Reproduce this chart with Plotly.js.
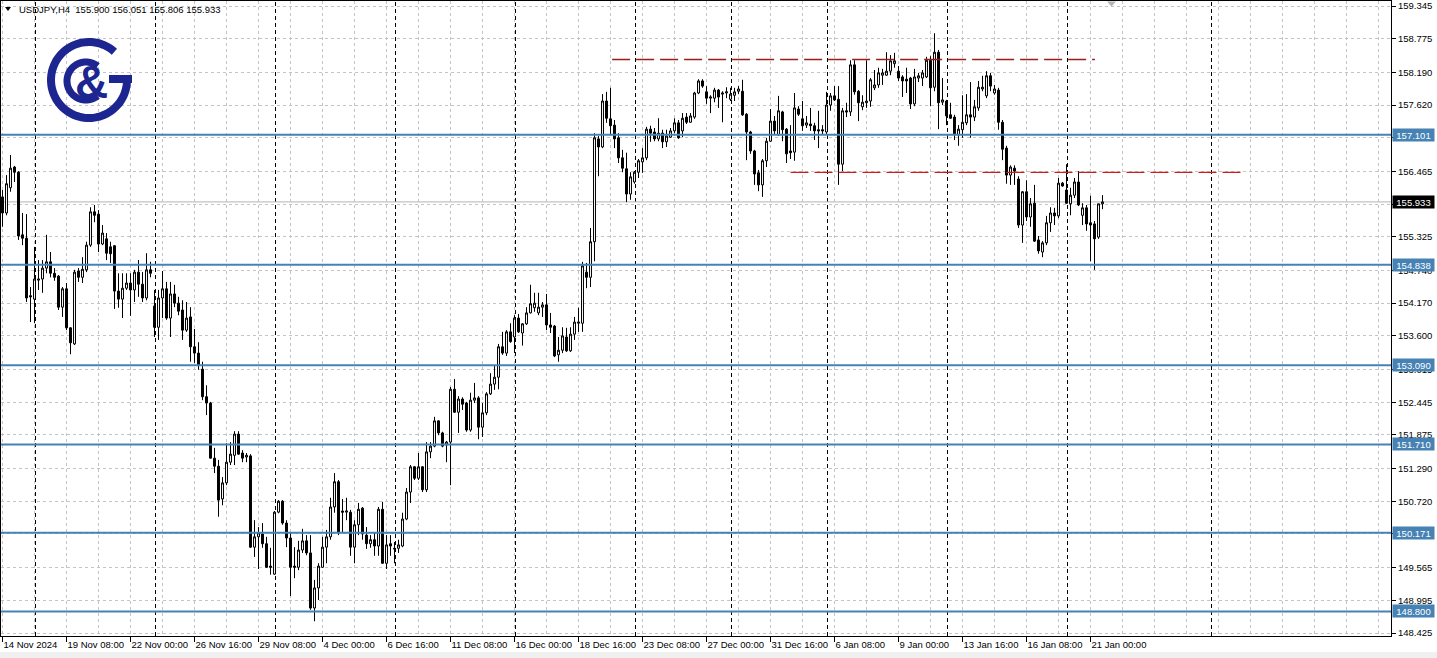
<!DOCTYPE html>
<html><head><meta charset="utf-8">
<script src="https://cdn.plot.ly/plotly-3.0.1.min.js"></script>
<style>html,body{margin:0;padding:0;background:#fff;overflow:hidden}#chart{width:1437px;height:658px}</style>
</head><body><div id="chart"></div>
<script>
const symbol = "USDJPY";
const timeframe = "H4";

const open = [
156.02,155.74,156.18,156.54,156.45,155.36,155.30,154.30,154.24,154.57,
154.59,154.78,154.89,154.69,154.64,154.10,154.42,153.74,153.46,154.73,
154.62,154.75,155.18,155.76,155.72,155.20,155.29,155.15,155.17,154.38,
154.24,154.43,154.52,154.40,154.71,154.50,154.26,154.75,154.12,153.75,
154.26,154.42,153.91,154.33,154.17,154.05,153.70,153.93,153.41,153.30,
153.02,152.54,152.43,151.47,151.33,150.76,151.04,151.40,151.52,151.89,
151.56,151.49,151.51,149.92,150.10,150.15,149.98,149.59,149.45,150.53,
150.72,150.34,150.08,149.59,149.57,149.87,150.03,149.82,148.86,149.21,
149.57,149.92,150.10,150.62,151.06,150.55,150.53,150.53,149.92,150.31,
150.60,150.13,149.98,150.05,149.94,150.58,149.64,149.98,149.90,149.90,
149.94,150.41,150.88,151.32,151.12,151.32,150.92,151.58,151.68,152.12,
151.91,151.70,151.75,152.67,152.27,152.50,152.43,151.96,152.48,152.52,
152.01,152.26,152.59,152.76,152.88,153.41,153.30,153.67,153.58,153.91,
153.65,153.81,154.00,154.09,154.00,154.10,154.14,153.79,153.77,153.27,
153.35,153.58,153.34,153.63,153.82,153.82,154.71,154.62,155.24,157.03,
156.89,157.69,157.38,157.27,157.05,156.70,156.51,156.07,156.28,156.45,
156.63,156.70,157.20,157.15,157.03,157.13,156.98,157.06,157.17,157.31,
157.17,157.41,157.32,157.41,157.83,158.04,157.85,157.74,157.74,157.88,
157.81,157.83,157.72,157.79,157.86,157.86,157.46,157.15,156.82,156.44,
156.23,156.65,156.99,157.34,157.10,157.50,157.20,156.82,156.80,157.55,
157.38,157.27,157.29,157.26,157.19,157.19,157.15,157.62,157.78,157.72,
156.59,157.52,157.50,158.32,157.86,157.59,157.66,157.69,157.92,157.97,
158.14,158.14,158.21,158.34,158.21,158.11,158.07,158.09,157.64,158.09,
158.09,158.11,158.40,157.93,158.54,157.67,157.69,157.45,157.41,157.10,
157.19,157.31,157.45,157.41,157.57,157.90,157.78,158.13,157.83,157.88,
157.32,156.87,156.40,156.52,156.33,155.53,156.11,155.67,155.91,155.27,
155.06,155.22,155.57,155.74,155.69,156.26,156.14,155.90,156.05,156.28,
155.70,155.83,155.57,155.55,155.32,155.900
];
const high = [
156.14,156.40,156.75,156.56,156.47,155.74,155.72,154.45,155.15,154.92,
154.92,155.36,155.06,154.78,154.66,154.45,154.52,153.75,154.75,154.78,
154.97,155.24,155.84,155.88,155.79,155.53,155.39,155.24,155.18,154.69,
154.69,154.69,154.69,154.75,154.92,154.71,155.04,154.89,154.40,154.40,
154.73,154.54,154.54,154.49,154.28,154.22,154.19,154.10,153.72,153.49,
153.15,152.74,152.45,151.65,151.44,151.14,151.73,151.75,151.94,151.94,
151.61,151.56,151.54,150.39,150.27,150.34,150.10,149.91,150.55,150.74,
150.74,150.39,150.18,149.92,150.03,150.24,150.13,150.13,149.35,149.64,
150.10,150.22,150.78,151.21,151.09,150.76,150.78,150.57,150.39,150.69,
150.62,150.27,150.13,150.17,150.62,150.71,150.13,150.13,150.01,150.05,
150.52,150.95,151.35,151.33,151.56,151.33,151.75,151.75,152.19,152.13,
151.93,151.77,152.71,152.85,152.55,152.53,152.45,152.61,152.78,152.55,
152.43,152.62,152.95,153.09,153.46,153.67,153.70,153.82,153.96,153.98,
153.82,154.10,154.49,154.35,154.35,154.19,154.33,154.00,153.79,153.58,
153.75,153.74,153.75,153.93,154.09,154.89,154.87,155.48,157.13,157.08,
157.81,157.85,157.92,157.36,157.13,156.84,156.79,156.45,156.47,156.68,
156.87,157.24,157.26,157.22,157.39,157.19,157.19,157.22,157.39,157.36,
157.48,157.48,157.48,157.85,158.07,158.07,157.95,157.79,157.92,157.90,
157.86,157.93,157.92,157.92,157.95,158.06,157.48,157.17,156.84,156.49,
156.68,157.05,157.55,157.43,157.78,157.52,157.22,157.27,157.83,157.60,
157.69,157.43,157.57,157.31,157.52,157.27,157.85,157.83,157.95,157.95,
157.57,157.66,158.40,158.40,157.88,157.79,158.40,158.09,158.23,158.27,
158.25,158.54,158.49,158.53,158.30,158.14,158.27,158.11,158.25,158.18,
158.23,158.46,158.47,158.87,158.58,158.09,157.71,157.66,157.45,157.27,
157.79,157.81,158.02,157.71,158.04,158.13,158.21,158.18,157.97,157.92,
157.36,156.91,156.57,156.57,156.38,156.12,156.31,156.00,156.23,155.34,
155.25,155.69,155.84,155.83,156.35,156.28,156.59,156.18,156.35,156.47,
155.91,155.88,156.04,155.60,155.90,156.051
];
const low = [
155.50,155.70,156.11,156.28,155.27,155.18,154.19,153.84,153.82,154.40,
154.35,154.69,154.62,154.56,154.05,153.93,153.70,153.28,153.44,154.54,
154.52,154.71,155.15,155.58,155.06,155.18,154.92,154.87,154.07,154.09,
153.91,154.40,153.95,154.19,154.28,154.19,154.22,154.62,153.58,153.53,
153.91,153.88,153.58,154.10,153.96,153.53,153.67,153.15,153.13,153.01,
152.48,152.22,151.53,151.21,150.45,150.65,151.00,151.35,151.35,151.53,
151.40,151.40,149.91,149.75,149.54,149.91,149.56,149.44,149.44,150.51,
150.31,149.92,149.07,149.38,149.52,149.82,149.78,148.83,148.63,149.00,
149.56,149.64,150.05,150.52,150.13,150.17,150.39,149.77,149.64,150.13,
150.05,149.89,149.91,149.77,149.77,149.63,149.54,149.77,149.64,149.82,
149.92,150.39,150.69,151.09,151.09,150.88,150.88,151.47,151.66,151.87,
151.66,151.40,151.00,152.26,151.91,152.31,151.93,151.93,152.43,151.80,
151.84,152.22,152.57,152.66,152.67,153.27,153.25,153.48,153.30,153.65,
153.43,153.79,153.99,154.02,153.96,153.93,153.70,153.65,153.23,153.15,
153.30,153.32,153.32,153.53,153.67,153.67,154.43,154.45,154.90,156.38,
156.87,157.31,157.10,156.87,156.61,156.45,155.93,155.97,156.25,156.35,
156.44,156.66,156.98,156.99,156.99,156.87,156.89,157.05,157.13,157.03,
157.06,157.29,157.31,157.38,157.81,157.92,157.64,157.48,157.67,157.57,
157.32,157.74,157.69,157.69,157.81,157.43,156.66,156.77,156.23,156.12,
156.02,156.54,156.98,157.10,157.08,156.99,156.61,156.68,156.65,157.43,
157.17,157.22,157.17,157.01,156.87,157.10,157.10,157.52,157.69,156.23,
156.47,157.41,157.43,157.80,157.34,157.53,157.57,157.59,157.88,157.92,
157.97,158.13,158.14,158.27,158.04,157.76,157.83,157.55,157.60,158.02,
157.95,158.09,157.60,157.86,157.20,157.62,157.27,157.38,157.01,156.91,
157.05,157.27,157.05,157.34,157.52,157.86,157.74,157.86,157.80,157.19,
156.66,156.25,156.23,156.23,155.48,155.22,155.60,155.50,155.24,155.03,
154.97,155.18,155.41,155.53,155.65,156.20,155.90,155.70,156.00,155.86,
155.53,155.43,154.90,154.75,155.29,155.806
];
const close = [
155.74,156.25,156.52,156.45,155.34,155.30,154.26,154.28,154.59,154.59,
154.78,154.89,154.69,154.62,154.10,154.42,153.74,153.48,154.71,154.62,
154.76,155.18,155.76,155.70,155.20,155.39,155.04,155.03,154.38,154.24,
154.43,154.52,154.40,154.71,154.50,154.26,154.75,154.69,153.75,154.26,
154.42,153.91,154.33,154.17,154.03,153.70,153.91,153.41,153.30,153.09,
152.54,152.43,151.47,151.33,150.74,151.04,151.40,151.54,151.89,151.54,
151.47,151.52,149.92,150.10,150.17,149.98,149.57,149.57,150.53,150.72,
150.34,150.08,149.57,149.57,149.87,150.03,149.82,148.86,149.21,149.59,
149.92,150.10,150.62,151.06,150.17,150.53,150.55,149.92,150.31,150.58,
150.15,149.98,150.05,149.94,150.58,149.64,149.96,149.94,149.89,149.96,
150.41,150.88,151.32,151.12,151.32,150.92,151.58,151.68,152.12,151.91,
151.68,151.75,152.67,152.27,152.50,152.41,151.96,152.48,152.52,152.01,
152.26,152.59,152.76,152.88,153.41,153.30,153.67,153.50,153.91,153.67,
153.81,154.00,154.16,154.17,154.10,154.14,153.79,153.75,153.25,153.35,
153.60,153.34,153.63,153.84,153.84,154.82,154.62,155.24,157.05,156.89,
157.69,157.39,157.26,157.03,156.70,156.52,156.07,156.37,156.45,156.65,
156.70,157.20,157.13,157.03,157.13,156.98,157.08,157.17,157.31,157.05,
157.39,157.32,157.43,157.83,158.04,157.95,157.74,157.76,157.88,157.76,
157.83,157.85,157.81,157.85,157.90,157.45,157.15,156.82,156.42,156.23,
156.65,156.99,157.34,157.17,157.52,157.19,156.77,156.79,157.57,157.46,
157.26,157.31,157.26,157.17,157.17,157.17,157.62,157.78,157.71,156.59,
157.52,157.50,158.32,157.85,157.66,157.67,157.69,158.06,157.97,158.18,
158.18,158.21,158.39,158.39,158.09,158.04,158.04,157.64,158.11,158.13,
158.18,158.40,157.92,158.54,157.66,157.71,157.43,157.39,157.12,157.20,
157.32,157.45,157.41,157.59,157.93,157.93,158.13,157.95,157.90,157.32,
156.85,156.40,156.54,156.47,155.53,156.11,155.67,155.90,155.25,155.08,
155.22,155.57,155.74,155.69,156.26,156.21,155.91,156.05,156.28,155.88,
155.83,155.55,155.53,155.29,155.90,155.933
];

const tickBars = [0,16,32,48,64,80,96,112,128,144,160,176,192,208,224,240,256,272];
const tickLabels = ["14 Nov 2024","19 Nov 08:00","22 Nov 00:00","26 Nov 16:00","29 Nov 08:00",
  "4 Dec 00:00","6 Dec 16:00","11 Dec 08:00","16 Dec 00:00","18 Dec 16:00","23 Dec 08:00",
  "27 Dec 00:00","31 Dec 16:00","6 Jan 08:00","9 Jan 00:00","13 Jan 16:00","16 Jan 08:00","21 Jan 00:00"];
const priceTickLabels = ["159.345","158.775","158.190","157.620","157.050","156.465","155.895",
  "155.325","154.740","154.170","153.600","153.015","152.445","151.875","151.290","150.720",
  "150.150","149.565","148.995","148.425"];
const weekStartBars = [8,38,68,98,128,158,182,206,236,266,302];
const levelPrices = [157.101,154.838,153.090,151.710,150.171,148.800];
const dashedPrices = [158.413,156.449];
const dashedStartBars = [152.4,197.0];
const dashedEndBars = [273.1,309.5];

// ---- geometry helpers (pixels -> paper) ----
const W = 1437, H = 658, ML = 1, MR = 46, MT = 1, MB = 22;
const PW = W - ML - MR, PH = H - MT - MB;
const px = v => (v - ML) / PW;
const py = v => 1 - (v - MT) / PH;

function arc(cx, cy, r, a0, a1, n) {
  let s = '';
  for (let k = 0; k <= n; k++) {
    const a = (a0 + (a1 - a0) * k / n) * Math.PI / 180;
    const X = cx + r * Math.cos(a), Y = cy - r * Math.sin(a);
    s += (k ? ' L ' : 'M ') + px(X).toFixed(5) + ',' + py(Y).toFixed(5);
  }
  return s;
}
const navy = '#1d2690';
const gridCol = '#c4c4c4';
const blue = '#4682b4';
const font = 'Liberation Sans, Arial, sans-serif';
const fs = 9.5;

const xs = open.map((_, i) => i);
const N = open.length;
const bid = close[N - 1];

const shapes = [];
weekStartBars.forEach(b => shapes.push({type:'line', xref:'x', yref:'paper', x0:b+0.25, x1:b+0.25, y0:0, y1:1,
  line:{color:'#000', width:1, dash:'4px,3px'}, layer:'between'}));
shapes.push({type:'line', xref:'paper', yref:'y', x0:0, x1:1, y0:bid, y1:bid, line:{color:'#b4b4b4', width:1}, layer:'between'});
levelPrices.forEach(p => shapes.push({type:'line', xref:'paper', yref:'y', x0:0, x1:1, y0:p, y1:p,
  line:{color:blue, width:2}, layer:'above'}));
const dashedColors = ['#9e1b1b', '#c62020'];
dashedPrices.forEach((p, k) => shapes.push({type:'line', xref:'x', yref:'y', x0:dashedStartBars[k], x1:dashedEndBars[k], y0:p, y1:p,
  line:{color:dashedColors[k], width:1.3, dash:'18px,6px'}, layer:'above'}));
// logo
shapes.push({type:'path', xref:'paper', yref:'paper', path: arc(89, 80, 38, 48, 360, 80), line:{color:navy, width:8}, layer:'above'});
shapes.push({type:'path', xref:'paper', yref:'paper', path: 'M '+px(109)+','+py(79)+' L '+px(132)+','+py(79), line:{color:navy, width:8}, layer:'above'});
shapes.push({type:'path', xref:'paper', yref:'paper', path: arc(86, 81, 19, 52, 308, 60), line:{color:navy, width:7}, layer:'above'});
shapes.push({type:'path', xref:'paper', yref:'paper', path:'M '+px(5)+','+py(7)+' L '+px(11)+','+py(7)+' L '+px(8)+','+py(11)+' Z',
  fillcolor:'#000', line:{width:0}, layer:'above'});
shapes.push({type:'path', xref:'paper', yref:'paper', path:'M '+px(1107)+','+py(1.5)+' L '+px(1116)+','+py(1.5)+' L '+px(1111.5)+','+py(6.5)+' Z',
  fillcolor:'#b4b4b4', line:{width:0}, layer:'above'});
shapes.push({type:'rect', xref:'paper', yref:'paper', x0:-0.01, x1:1.04, y0:py(652), y1:py(660), fillcolor:'#f0f0f0', line:{width:0}, layer:'below'});

const annotations = [];
annotations.push({xref:'paper', yref:'paper', x:px(17), y:py(9.5), xanchor:'left', yanchor:'middle', showarrow:false,
  text: symbol + ',' + timeframe + '\u00a0\u00a0' + [open[N-1], high[N-1], low[N-1], close[N-1]].map(v => v.toFixed(3)).join(' '),
  font:{family:font, size:fs, color:'#000'}});
levelPrices.forEach(p => annotations.push({xref:'paper', yref:'y', x:1, y:p, xanchor:'left', yanchor:'middle', xshift:1,
  showarrow:false, text:p.toFixed(3), bgcolor:blue, borderpad:1, width:39, height:10, align:'center',
  font:{family:font, size:fs, color:'#fff'}}));
annotations.push({xref:'paper', yref:'y', x:1, y:bid, xanchor:'left', yanchor:'middle', xshift:1,
  showarrow:false, text:bid.toFixed(3), bgcolor:'#000', borderpad:1, width:39, height:10, align:'center',
  font:{family:font, size:fs, color:'#fff'}});
annotations.push({xref:'paper', yref:'paper', x:px(91), y:py(82), xanchor:'center', yanchor:'middle', showarrow:false,
  text:'&', font:{family:font, size:46, color:navy, weight:'bold'}});

const trace = {
  type:'candlestick', x:xs, open:open, high:high, low:low, close:close,
  increasing:{line:{color:'#000', width:1}, fillcolor:'#fff'},
  decreasing:{line:{color:'#000', width:1}, fillcolor:'#000'},
  whiskerwidth:0, hoverinfo:'skip', showlegend:false
};

const layout = {
  width:W, height:H, margin:{l:ML, r:MR, t:MT, b:MB, pad:0},
  paper_bgcolor:'#fff', plot_bgcolor:'#fff', showlegend:false,
  xaxis:{range:[(1 - 2.5)/4, (1391 - 2.5)/4], tickmode:'array', tickvals:tickBars, ticktext:tickLabels,
    ticks:'outside', ticklen:5, tickcolor:'#000', tickwidth:1, ticklabelposition:'outside right', tickangle:0,
    showline:true, linecolor:'#000', linewidth:1, mirror:true, zeroline:false,
    showgrid:true, gridcolor:gridCol, griddash:'3px,3px', gridwidth:1,
    minor:{tickmode:'linear', tick0:0, dtick:8, showgrid:true, gridcolor:gridCol, griddash:'3px,3px', gridwidth:1, ticks:''},
    tickfont:{family:font, size:fs, color:'#000'}, rangeslider:{visible:false}, fixedrange:true},
  yaxis:{side:'right', range:[148.373, 159.432], tickmode:'array', tickvals:priceTickLabels.map(Number), ticktext:priceTickLabels,
    ticks:'outside', ticklen:4, tickcolor:'#000', tickwidth:1,
    showline:true, linecolor:'#000', linewidth:1, mirror:true, zeroline:false,
    showgrid:true, gridcolor:gridCol, griddash:'3px,3px', gridwidth:1,
    tickfont:{family:font, size:fs, color:'#000'}, fixedrange:true},
  shapes:shapes, annotations:annotations
};

Plotly.newPlot('chart', [trace], layout, {displayModeBar:false, staticPlot:true});
</script></body></html>
